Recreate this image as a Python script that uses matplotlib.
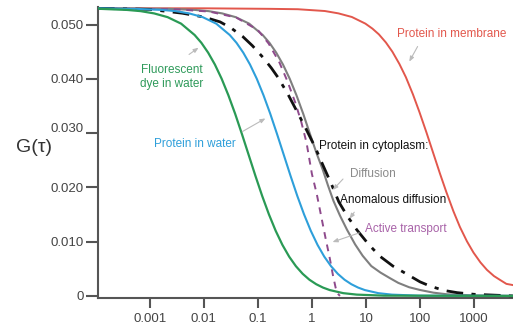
import numpy as np
import matplotlib
matplotlib.use("Agg")
import matplotlib.pyplot as plt
from matplotlib.transforms import ScaledTranslation

# ---- data (log10 tau, G) ----
dye_logt = [-3.96, -3.92, -3.42, -3.17, -2.92, -2.67, -2.42, -2.17, -2.045, -1.92, -1.795, -1.67, -1.545, -1.42,
            -1.295, -1.17, -1.045, -0.92, -0.795, -0.67, -0.545, -0.42, -0.295, -0.17, -0.045, 0.08, 0.205, 0.33,
            0.58, 0.83, 1.33, 3.72]
dye_g = [0.0530, 0.0529, 0.0527, 0.05248, 0.05206, 0.05137, 0.05017, 0.04808, 0.04664, 0.04483, 0.04264, 0.04002,
         0.03697, 0.03356, 0.02984, 0.02599, 0.02213, 0.01843, 0.01503, 0.01200, 0.00940, 0.00723, 0.00547, 0.00407,
         0.00298, 0.00216, 0.00154, 0.00108, 0.00051, 0.00024, 0.00005, 0.0]

water_logt = [-3.96, -3.27, -2.77, -2.52, -2.27, -2.02, -1.77, -1.52, -1.395, -1.27, -1.145, -1.02, -0.895, -0.77,
              -0.645, -0.52, -0.395, -0.27, -0.145, -0.02, 0.105, 0.23, 0.355, 0.48, 0.605, 0.73, 0.855, 0.98,
              1.23, 1.48, 1.98, 3.72]
water_g = [0.0530, 0.0529, 0.0527, 0.05248, 0.05206, 0.05137, 0.05017, 0.04808, 0.04664, 0.04483, 0.04264, 0.04002,
           0.03697, 0.03356, 0.02984, 0.02599, 0.02213, 0.01843, 0.01503, 0.01200, 0.00940, 0.00723, 0.00547, 0.00407,
           0.00298, 0.00216, 0.00154, 0.00108, 0.00051, 0.00024, 0.00005, 0.0]

diff_logt = [-3.96, -2.66, -2.16, -1.91, -1.66, -1.41, -1.16, -0.91, -0.785, -0.66, -0.535, -0.41, -0.285, -0.16,
             -0.035, 0.09, 0.2, 0.3, 0.4, 0.52, 0.65, 0.8, 0.94, 1.1, 1.27, 1.44, 1.6, 1.8, 2.0, 2.25, 2.5, 3.0, 3.72]
diff_g = [0.0530, 0.0529, 0.0527, 0.05248, 0.05206, 0.05137, 0.05017, 0.04808, 0.04664, 0.04483, 0.04264, 0.04002,
          0.03697, 0.03356, 0.02984, 0.0262, 0.0233, 0.0203, 0.0175, 0.0148, 0.0122, 0.0095, 0.0074, 0.0055, 0.0043,
          0.0033, 0.0024, 0.0016, 0.0011, 0.0006, 0.0003, 0.0001, 0.0]

anom_logt = [-3.96, -3.0, -2.4, -2.0, -1.70, -1.5, -1.28, -1.1, -0.91, -0.75, -0.63, -0.45, -0.26, -0.1, 0.06, 0.2,
             0.37, 0.5, 0.65, 0.83, 1.05, 1.26, 1.5, 1.76, 2.0, 2.19, 2.45, 2.69, 3.0, 3.24, 3.72]
anom_g = [0.0530, 0.0528, 0.0521, 0.0514, 0.0505, 0.0494, 0.0478, 0.0461, 0.0440, 0.0420, 0.0403, 0.0373, 0.0337,
          0.0306, 0.0274, 0.0242, 0.0204, 0.0173, 0.0148, 0.0122, 0.0095, 0.0073, 0.0055, 0.0040, 0.0026, 0.0018,
          0.0010, 0.0006, 0.0003, 0.0002, 0.0]

active_logt = [-3.96, -2.5, -1.9, -1.4, -1.0, -0.8, -0.6, -0.45, -0.31, -0.2, -0.1, 0.0, 0.09, 0.15, 0.25, 0.33,
               0.39, 0.44, 0.48, 0.52]
active_g = [0.0530, 0.0528, 0.0524, 0.0513, 0.0490, 0.0465, 0.0430, 0.0395, 0.0357, 0.0322, 0.0283, 0.0225, 0.0188,
            0.0158, 0.0108, 0.0070, 0.0038, 0.0015, 0.0004, 0.0]

memb_logt = [-3.96, -2.0, -0.76, -0.26, 0.24, 0.49, 0.74, 0.99, 1.12, 1.24, 1.37, 1.49, 1.62, 1.74, 1.87, 1.99, 2.12,
             2.24, 2.37, 2.49, 2.62, 2.74, 2.87, 2.99, 3.12, 3.24, 3.37, 3.49, 3.6, 3.72]
memb_g = [0.0530, 0.0530, 0.0529, 0.05283, 0.0525, 0.05207, 0.0514, 0.05018, 0.04926, 0.0482, 0.0467, 0.0450, 0.04274,
          0.0403, 0.03715, 0.0339, 0.03014, 0.0265, 0.02256, 0.0191, 0.01559, 0.0127, 0.01006, 0.0080, 0.00617,
          0.0048, 0.00366, 0.0029, 0.00222, 0.0020]

x_ticks = [0.001, 0.01, 0.1, 1, 10, 100, 1000]
x_tick_labels = ["0.001", "0.01", "0.1", "1", "10", "100", "1000"]
y_ticks = [0, 0.010, 0.020, 0.030, 0.040, 0.050]
y_tick_labels = ["0", "0.010", "0.020", "0.030", "0.040", "0.050"]

plt.rcParams["font.family"] = ["Liberation Sans", "DejaVu Sans"]

fig = plt.figure(figsize=(5.13, 3.34), dpi=100)
ax = fig.add_axes([0.191, 0.108, 0.809, 0.872])

def tau(lt):
    return 10 ** np.asarray(lt)

ax.plot(tau(memb_logt), memb_g, color="#e2574c", lw=1.4, zorder=2)
ax.plot(tau(diff_logt), diff_g, color="#7f7f7f", lw=1.5, zorder=3)
ax.plot(tau(active_logt), active_g, color="#8e4a8c", lw=1.4, ls=(0, (3.5, 3)), zorder=4)
ax.plot(tau(anom_logt), anom_g, color="#111111", lw=2.0, ls=(0, (6, 3, 1.5, 3)), zorder=5)
ax.plot(tau(water_logt), water_g, color="#2e9fda", lw=1.5, zorder=6)
ax.plot(tau(dye_logt), dye_g, color="#2a9a55", lw=1.6, zorder=7)

ax.set_xscale("log")
ax.set_xlim(1.1e-4, 5275)
ax.set_ylim(-0.00037, 0.0533)
ax.set_xticks(x_ticks)
ax.set_xticklabels(x_tick_labels)
ax.minorticks_off()
ax.set_yticks(y_ticks)
ax.set_yticklabels(y_tick_labels)

for s in ["top", "right"]:
    ax.spines[s].set_visible(False)
for s in ["left", "bottom"]:
    ax.spines[s].set_color("#555555")
    ax.spines[s].set_linewidth(1.5)
ax.tick_params(axis="both", colors="#555555", width=1.5, length=7, labelsize=9.5,
               labelcolor="#444444")
ax.tick_params(axis="y", pad=1, length=9)
ax.tick_params(axis="x", pad=4)

# the 0.030 label sits slightly raised in the reference
for lab in ax.get_yticklabels():
    if lab.get_text() == "0.030":
        lab.set_transform(lab.get_transform() + ScaledTranslation(0, 4 / 72, fig.dpi_scale_trans))

fig.text(34 / 513, 1 - 147 / 334, "G(\u03c4)", fontsize=14, color="#333333",
         ha="center", va="center")

def px(xp, yp):
    return (10 ** ((xp - 312) / 54.0), (296 - yp) / 5430.0)

def label(text, xp, yp, color, ptr=None):
    ax.text(*px(xp, yp), text, color=color, fontsize=8.5, ha="center", va="center",
            linespacing=1.3, zorder=10)
    if ptr is not None:
        (x0, y0), (x1, y1) = ptr
        ax.annotate("", xy=px(x1, y1), xytext=px(x0, y0),
                    arrowprops=dict(arrowstyle="-|>,head_length=0.3,head_width=0.12",
                                    color="#bbbbbb", lw=0.8), zorder=9)

label("Fluorescent\ndye in water", 172, 77, "#2e9a5a", ((187, 56), (201, 46)))
label("Protein in water", 195, 144, "#2e9fda", ((240, 133), (268, 117)))
label("Protein in membrane", 452, 34, "#e2574c", ((419, 44), (408, 64)))
label("Protein in cytoplasm:", 374, 146, "#111111")
label("Diffusion", 373, 174, "#8a8a8a", ((345, 177), (331, 192)))
label("Anomalous diffusion", 393, 200, "#111111", ((356, 210), (348, 221)))
label("Active transport", 406, 229, "#a862a8", ((362, 232), (330, 243)))

fig.savefig("out.png", dpi=100)
